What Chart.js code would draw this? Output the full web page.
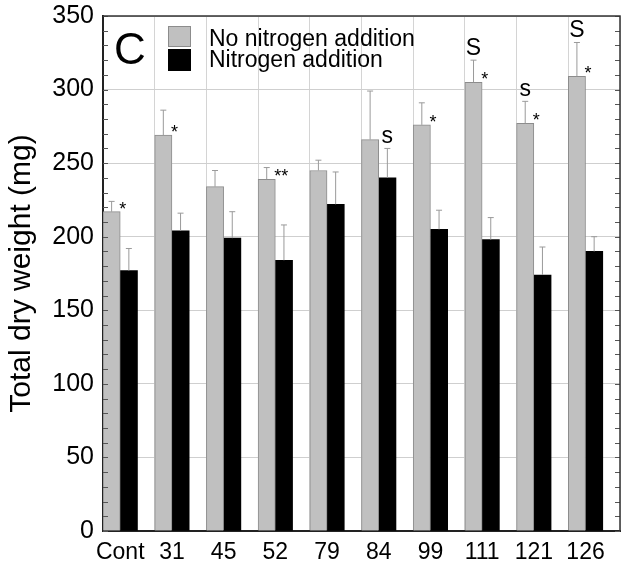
<!DOCTYPE html>
<html>
<head>
<meta charset="utf-8">
<script src="https://cdn.jsdelivr.net/npm/chart.js@4.4.0/dist/chart.umd.min.js"></script>
<style>
  body { margin: 0; background: #fff; }
</style>
</head>
<body>
<canvas id="myChart" width="621" height="571"></canvas>
<script>
const ctx = document.getElementById("myChart")

const categories = ['Cont', '31', '45', '52', '79', '84', '99', '111', '121', '126']
const noNitrogen = [217, 269, 234, 239, 245, 266, 276, 305, 277, 309]
const noNitrogenErr = [7, 17, 11, 8, 7, 33, 15, 15, 15, 23]
const nitrogen = [177, 204, 199, 184, 222, 240, 205, 198, 174, 190]
const nitrogenErr = [15, 12, 18, 24, 22, 20, 13, 15, 19, 10]
// significance marks
const stars = ['*', '*', '', '**', '', '', '*', '*', '*', '*']
const letters = ['', '', '', '', '', 's', '', 'S', 's', 'S']
const letterOnBar = [0, 0, 0, 0, 0, 1, 0, 0, 0, 0]
const yTicks = [0, 50, 100, 150, 200, 250, 300, 350]

const FONT = "'Liberation Sans', Arial, sans-serif"

const extras = {
  id: 'extras',
  afterDatasetsDraw(chart) {
    const c = chart.ctx
    const y = chart.scales.y
    const area = chart.chartArea
    const errs = [noNitrogenErr, nitrogenErr]
    const vals = [noNitrogen, nitrogen]
    c.save()
    // error bars (upper only)
    c.strokeStyle = '#9a9a9a'
    c.lineWidth = 1
    for (let d = 0; d < 2; d++) {
      chart.getDatasetMeta(d).data.forEach((bar, i) => {
        const top = y.getPixelForValue(vals[d][i] + errs[d][i])
        c.beginPath()
        c.moveTo(bar.x, bar.y)
        c.lineTo(bar.x, top)
        c.moveTo(bar.x - 3, top)
        c.lineTo(bar.x + 3, top)
        c.stroke()
      })
    }
    // stars and letters
    c.fillStyle = '#000'
    const grey = chart.getDatasetMeta(0).data
    const black = chart.getDatasetMeta(1).data
    categories.forEach((cat, i) => {
      if (stars[i]) {
        const b = grey[i]
        c.font = '18px ' + FONT
        c.textAlign = 'left'
        c.textBaseline = 'alphabetic'
        c.fillText(stars[i], b.x + b.width / 2 - 1, b.y + 3)
      }
      if (letters[i]) {
        const d = letterOnBar[i]
        const b = d === 0 ? grey[i] : black[i]
        const top = y.getPixelForValue(vals[d][i] + errs[d][i])
        c.font = '23px ' + FONT
        c.textAlign = 'center'
        c.textBaseline = 'alphabetic'
        c.fillText(letters[i], b.x, top - 5)
      }
    })
    // minor ticks, left and right
    c.strokeStyle = '#555'
    c.lineWidth = 1
    for (let v = 0; v <= 350; v += 10) {
      const py = Math.round(y.getPixelForValue(v)) + 0.5
      c.beginPath()
      c.moveTo(area.left, py)
      c.lineTo(area.left + 5, py)
      c.moveTo(area.right - 5, py)
      c.lineTo(area.right, py)
      c.stroke()
    }
    // top and right frame
    c.strokeStyle = '#333'
    c.lineWidth = 1.5
    c.beginPath()
    c.moveTo(area.left, area.top)
    c.lineTo(area.right, area.top)
    c.lineTo(area.right, area.bottom)
    c.stroke()
    // panel letter
    c.font = '44px ' + FONT
    c.textAlign = 'left'
    c.textBaseline = 'alphabetic'
    c.fillText('C', area.left + 11, area.top + 48)
    // legend
    c.fillStyle = '#c0c0c0'
    c.strokeStyle = '#8c8c8c'
    c.lineWidth = 1
    c.fillRect(area.left + 65, area.top + 10, 23, 21)
    c.strokeRect(area.left + 65.5, area.top + 10.5, 22, 20)
    c.fillStyle = '#000'
    c.fillRect(area.left + 65, area.top + 33, 23, 22)
    c.font = '23px ' + FONT
    c.fillText('No nitrogen addition', area.left + 106, area.top + 30)
    c.fillText('Nitrogen addition', area.left + 106, area.top + 51)
    c.restore()
  }
}

let myChart = new Chart(ctx, {
  type: 'bar',
  data: {
    labels: categories,
    datasets: [{
      label: 'No nitrogen addition',
      data: noNitrogen,
      backgroundColor: '#c0c0c0',
      borderColor: '#8c8c8c',
      borderWidth: 1
    }, {
      label: 'Nitrogen addition',
      data: nitrogen,
      backgroundColor: '#000000',
      borderWidth: 0
    }, {
      label: '',
      data: categories.map(() => null)
    }]
  },
  options: {
    responsive: false,
    animation: false,
    layout: { padding: { top: 16, right: 1, left: 0, bottom: 0 } },
    datasets: { bar: { categoryPercentage: 1, barPercentage: 1 } },
    plugins: { legend: { display: false }, tooltip: { enabled: false } },
    scales: {
      x: {
        grid: { color: '#d4d4d4', offset: true, drawTicks: false },
        border: { color: '#222', width: 2 },
        ticks: {
          color: '#000',
          font: { family: FONT, size: 23 },
          labelOffset: -8.6,
          padding: 8,
          maxRotation: 0,
          autoSkip: false
        },
        afterFit(scale) {
          scale.height = 40
          scale.paddingLeft = 0
          scale.paddingRight = 0
        }
      },
      y: {
        min: 0,
        max: 350,
        afterBuildTicks(scale) { scale.ticks = yTicks.map(v => ({ value: v })) },
        grid: { color: '#cfcfcf', drawTicks: false },
        border: { color: '#222', width: 2 },
        ticks: {
          color: '#000',
          font: { family: FONT, size: 25 },
          padding: 9
        },
        title: {
          display: true,
          text: 'Total dry weight (mg)',
          color: '#000',
          font: { family: FONT, size: 30 },
          padding: { top: 4, bottom: 0 }
        },
        afterFit(scale) {
          scale.width = 103
          scale.paddingTop = 0
          scale.paddingBottom = 0
        }
      }
    }
  },
  plugins: [extras]
})
</script>
</body>
</html>
